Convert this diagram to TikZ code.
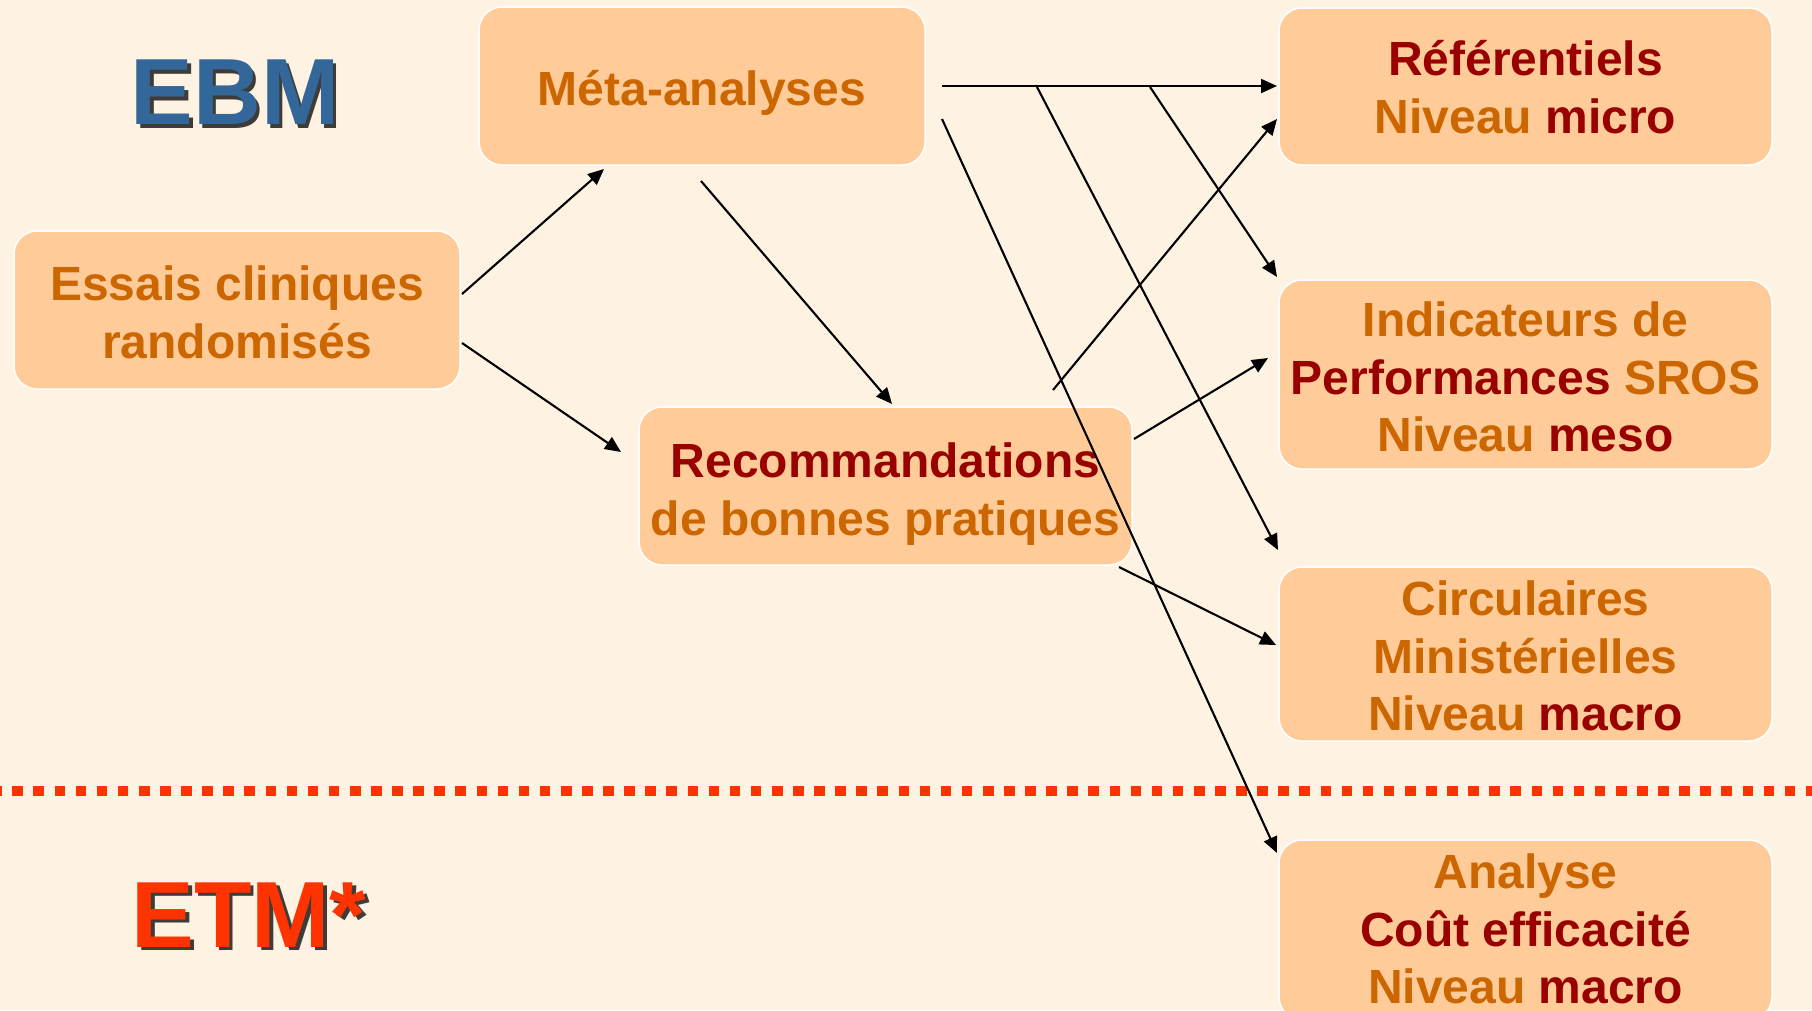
\documentclass[tikz,border=0pt]{standalone}
\usepackage{fontspec}
\setmainfont{Liberation Sans}
\usetikzlibrary{arrows.meta}
\definecolor{bgc}{RGB}{254,242,226}
\definecolor{boxc}{RGB}{255,204,153}
\definecolor{orng}{RGB}{204,102,0}
\definecolor{dred}{RGB}{153,0,0}
\definecolor{ebmblue}{RGB}{51,102,153}
\definecolor{etmred}{RGB}{255,51,0}
\tikzset{
  pbox/.style={draw=white, line width=1.5pt, fill=boxc, rounded corners=23pt, inner sep=0pt},
  btxt/.style={align=center, inner sep=0pt, text=orng,
    font=\fontsize{48}{57.7}\selectfont\bfseries},
  conn/.style={line width=2.1pt, -{Triangle[length=16pt,width=14pt]}},
  bigtxt/.style={font=\fontsize{94}{100}\selectfont\bfseries, inner sep=0pt, anchor=base},
}
\begin{document}
\begin{tikzpicture}[x=1pt,y=-1pt]
\useasboundingbox (0,0) rectangle (1812,1010);
\fill[bgc] (0,0) rectangle (1812,1010);

% titles with shadow
\node[bigtxt, text=black, opacity=0.75] (ebmsh) at (238.5,128) {EBM};
\node[bigtxt, text=ebmblue] (ebm) at (235,124.5) {EBM};
\node[bigtxt, text=black, opacity=0.75] (etmsh) at (252.5,950.5) {ETM*};
\node[bigtxt, text=etmred] (etm) at (249,947) {ETM*};

% dashed separator
\coordinate (sepL) at (0,791);
\coordinate (sepR) at (1812,791);
\draw[etmred, line width=10.6pt, dash pattern=on 10.6pt off 10.5pt, dash phase=8.8pt] (sepL) -- (sepR);

% boxes
\node[pbox, minimum width=446pt, minimum height=158pt] (meta) at (702,86) {};
\node[pbox, minimum width=446pt, minimum height=158pt] (essais) at (237,310) {};
\node[pbox, minimum width=493pt, minimum height=158pt] (reco) at (885.5,486) {};
\node[pbox, minimum width=493pt, minimum height=157pt] (ref) at (1525.5,86.5) {};
\node[pbox, minimum width=493pt, minimum height=189pt] (ind) at (1525.5,374.5) {};
\node[pbox, minimum width=493pt, minimum height=174pt] (circ) at (1525.5,654) {};
\node[pbox, minimum width=493pt, minimum height=180pt] (ana) at (1525.5,930) {};

% box texts
\node[btxt] (metat) at (702,93) {M\'eta-analyses};
\node[btxt] (essaist) at (237,312) {Essais cliniques\\randomis\'es};
\node[btxt] (recot) at (885.5,494) {\textcolor{dred}{Recommandations}\\de bonnes pratiques};
\node[btxt] (reft) at (1525.5,87) {\textcolor{dred}{R\'ef\'erentiels}\\Niveau \textcolor{dred}{micro}};
\node[btxt] (indt) at (1525.5,377) {Indicateurs de\\\textcolor{dred}{Performances} SROS\\Niveau \textcolor{dred}{meso}};
\node[btxt] (circt) at (1525.5,656) {Circulaires\\Minist\'erielles\\Niveau \textcolor{dred}{macro}};
\node[btxt] (anat) at (1525.5,929) {Analyse\\\textcolor{dred}{Co\^ut efficacit\'e}\\Niveau \textcolor{dred}{macro}};

% connector end points
\coordinate (e1) at (462,294);   \coordinate (m1) at (604,169);
\coordinate (e2) at (462,343);   \coordinate (r1) at (621,452);
\coordinate (m2) at (701,181);   \coordinate (r2) at (892,404);
\coordinate (m3) at (942,86);    \coordinate (f1) at (1277,86);
\coordinate (m4) at (1037,87);   \coordinate (c1) at (1278,550);
\coordinate (m5) at (1150,87);   \coordinate (i1) at (1277,277);
\coordinate (m6) at (942,119);   \coordinate (a1) at (1277,853);
\coordinate (r3) at (1053,390);  \coordinate (f2) at (1277,119);
\coordinate (r4) at (1134,439);  \coordinate (i2) at (1268,358);
\coordinate (r5) at (1119,567);  \coordinate (c2) at (1276,645);

\draw[conn] (e1) -- (m1);
\draw[conn] (e2) -- (r1);
\draw[conn] (m2) -- (r2);
\draw[conn] (m3) -- (f1);
\draw[conn] (m4) -- (c1);
\draw[conn] (m5) -- (i1);
\draw[conn] (m6) -- (a1);
\draw[conn] (r3) -- (f2);
\draw[conn] (r4) -- (i2);
\draw[conn] (r5) -- (c2);
\end{tikzpicture}
\end{document}
